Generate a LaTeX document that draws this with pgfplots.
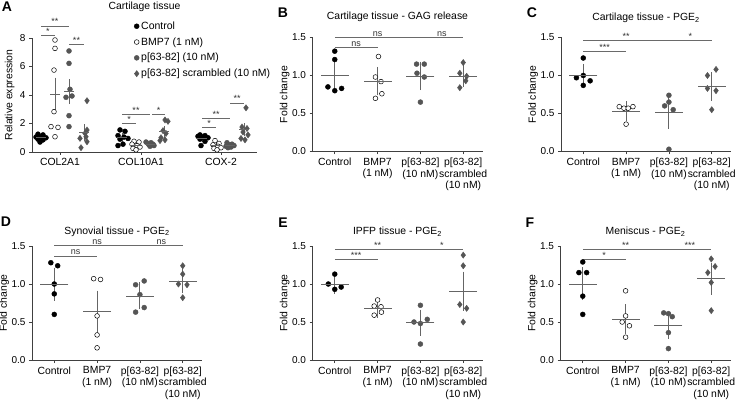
\documentclass[border=0pt]{standalone}
\usepackage{fontspec}
\setmainfont{Liberation Sans}
\usepackage{pgfplots}
\pgfplotsset{compat=1.18}

\definecolor{ptgray}{HTML}{555555}
\definecolor{mgray}{HTML}{656565}
\definecolor{sgray}{HTML}{6A6A6A}

\newcommand{\sig}[4]{\draw[sgray, line width=0.6pt] (axis cs:#1,#3) -- (axis cs:#2,#3)
  node[midway, above, inner sep=0.6pt, text=black!80, font=\fontsize{9}{9}\selectfont] {#4};}

\pgfplotsset{
  base/.style={scale only axis, axis lines=left,
    axis line style={-, line width=0.7pt, black!75},
    tick style={line width=0.7pt, black!75}, tick align=outside,
    major tick length=3pt, clip=false,
    font=\fontsize{10.4}{11.5}\selectfont,
    /pgf/number format/assume math mode=true,
    ylabel style={at={([xshift=-19.5pt]axis description cs:0,0.5)}, anchor=south},
    title style={font=\fontsize{10.4}{11.5}\selectfont}},
  fc/.style={base, width=170pt, height=114pt,
    xmin=-0.52, xmax=3.45, ymin=0, ymax=1.5,
    ytick={0,0.5,1,1.5},
    yticklabel style={font=\fontsize{10}{11}\selectfont, /pgf/number format/.cd, fixed, fixed zerofill, precision=1},
    xtick={0,1,2,3},
    xticklabels={Control, {BMP7\\(1 nM)}, {p[63-82]\\(10 nM)}, {p[63-82]\\scrambled\\(10 nM)}},
    xticklabel style={align=center},
    ylabel={Fold change}},
  ctrl/.style={only marks, mark=*, mark size=2.5pt, black},
  bmp/.style={only marks, mark=*, mark size=2.4pt, mark options={fill=white, draw=black, line width=0.5pt}},
  pep/.style={only marks, mark=*, mark size=2.5pt, ptgray},
  scr/.style={only marks, mark=diamond*, mark size=3.1pt, ptgray},
  sem/.style={forget plot, only marks, mark=-, mark size=#1pt, mgray,
    mark options={line width=0.9pt},
    error bars/.cd, y dir=both, y explicit, error mark=-,
    error mark options={mark size=#1pt/2, line width=0.9pt, mgray},
    error bar style={line width=0.9pt, mgray}},
}

\begin{document}
\begin{tikzpicture}
\useasboundingbox (0,0) rectangle (738pt,402pt);

% ---------------- A
\begin{axis}[base, at={(32pt,250pt)}, anchor=south west,
  width=225pt, height=114pt,
  xmin=0, xmax=225, ymin=0, ymax=8, ytick={0,2,4,6,8},
  yticklabel style={font=\fontsize{10}{11}\selectfont},
  xtick={28,109,189}, xticklabels={COL2A1,COL10A1,COX-2},
  ylabel={Relative expression},
  ylabel style={at={([xshift=-14pt]axis description cs:0,0.5)}, anchor=south},
  title={Cartilage tissue}, title style={yshift=17pt},
  legend style={at={(axis cs:102,9.3)}, anchor=north west, draw=none, fill=none,
    font=\fontsize{10.5}{11}\selectfont, row sep=2.7pt, inner sep=0pt},
  legend cell align=left]
\addplot[ctrl] coordinates {(6,1.25)(11,1.2)(4,1.05)(9,1.05)(14,1.0)(6,0.9)(11,0.85)(8,0.7)
  (88,1.55)(93,1.45)(86,1.15)(92,1.05)(96,0.95)(88,0.9)(91,0.55)(86,0.45)
  (168,1.2)(173,1.15)(166,1.1)(171,1.05)(176,1.0)(168,0.9)(173,0.75)(169,0.45)};
\addlegendentry{Control}
\addplot[bmp] coordinates {(23,7.86)(23,7.27)(22,5.75)(22,2.83)(19,1.78)(26,1.73)(23,1.07)
  (102,0.75)(107,0.7)(100,0.55)(105,0.45)(108,0.35)(101,0.25)(104,0.15)
  (183,0.8)(187,0.6)(181,0.5)(186,0.4)(189,0.3)(182,0.25)(185,0.15)};
\addlegendentry{BMP7 (1 nM)}
\addplot[pep] coordinates {(37,7.09)(37,6.22)(38,4.40)(34,3.84)(40,3.93)(37,2.55)(37,1.78)
  (114,0.7)(119,0.65)(116,0.6)(121,0.55)(117,0.5)(122,0.45)(118,0.4)
  (195,0.65)(200,0.55)(197,0.5)(202,0.45)(194,0.4)(199,0.35)(196,0.3)};
\addlegendentry{p[63-82] (10 nM)}
\addplot[scr] coordinates {(55,3.6)(48,0.96)(55,1.54)(54,1.07)(55,0.72)(49,0.30)(53,1.31)
  (133,2.25)(136,2.15)(131,1.5)(134,1.3)(129,1.0)(133,0.85)(128,0.8)
  (214,3.1)(210,1.75)(215,1.65)(211,1.4)(216,1.2)(209,0.95)(213,0.85)};
\addlegendentry{p[63-82] scrambled (10 nM)}
\addplot[sem=5] coordinates {
  (9,1.0) += (0,0.07) -= (0,0.07)
  (23,4.04) += (0,1.01) -= (0,1.09)
  (37,4.24) += (0,0.69) -= (0,0.71)
  (52,1.36) += (0,0.40) -= (0,0.40)
  (90,1.01) += (0,0.14) -= (0,0.14)
  (104,0.46) += (0,0.085) -= (0,0.085)
  (118,0.55) += (0,0.04) -= (0,0.04)
  (132,1.41) += (0,0.225) -= (0,0.225)
  (170,0.95) += (0,0.08) -= (0,0.08)
  (184,0.43) += (0,0.085) -= (0,0.085)
  (198,0.46) += (0,0.045) -= (0,0.045)
  (212,1.56) += (0,0.29) -= (0,0.29)};
\sig{9}{37}{8.85}{**}
\sig{9}{23}{8.2}{*}
\sig{37}{52}{7.55}{**}
\sig{90}{118}{2.65}{**}
\sig{90}{104}{2.0}{*}
\sig{120}{133}{2.65}{*}
\sig{170}{198}{2.35}{**}
\sig{170}{184}{1.72}{*}
\sig{198}{212}{3.45}{**}
\end{axis}

% ---------------- B
\begin{axis}[fc, at={(312.5pt,250.5pt)}, anchor=south west,
  title={Cartilage tissue - GAG release}, title style={yshift=6pt}]
\addplot[ctrl] coordinates {(0,1.32)(0,1.21)(-0.16,0.85)(0,0.80)(0.16,0.83)};
\addplot[bmp] coordinates {(1.02,1.25)(0.95,0.98)(1.08,0.92)(1.1,0.76)(0.95,0.70)};
\addplot[pep] coordinates {(1.91,1.15)(2.09,1.15)(1.92,1.03)(2.09,0.98)(2.0,0.65)};
\addplot[scr] coordinates {(3.0,1.17)(2.92,1.03)(3.08,0.99)(3.06,0.93)(2.92,0.84)};
\addplot[sem=14] coordinates {
  (0,1.0) += (0,0.105) -= (0,0.11)
  (1,0.92) += (0,0.10) -= (0,0.09)
  (2,0.99) += (0,0.10) -= (0,0.09)
  (3,0.99) += (0,0.06) -= (0,0.05)};
\sig{0}{2}{1.5}{ns}
\sig{2}{3}{1.5}{ns}
\sig{0}{1}{1.37}{ns}
\end{axis}

% ---------------- C
\begin{axis}[fc, at={(561pt,250.5pt)}, anchor=south west,
  title={Cartilage tissue - PGE\textsubscript{2}}, title style={yshift=5pt}]
\addplot[ctrl] coordinates {(0,1.23)(-0.16,0.97)(0,1.0)(0.16,0.93)(0,0.87)};
\addplot[bmp] coordinates {(0.84,0.59)(0.95,0.57)(1.05,0.57)(1.16,0.59)(1,0.36)};
\addplot[pep] coordinates {(2,0.74)(1.9,0.60)(2,0.65)(2.1,0.55)(2,0.03)};
\addplot[scr] coordinates {(2.9,1.0)(3.1,1.08)(2.9,0.83)(3.1,0.80)(3,0.55)};
\addplot[sem=14] coordinates {
  (0,1.0) += (0,0.06) -= (0,0.06)
  (1,0.53) += (0,0.04) -= (0,0.04)
  (2,0.51) += (0,0.13) -= (0,0.12)
  (3,0.85) += (0,0.10) -= (0,0.09)};
\sig{0}{2}{1.46}{**}
\sig{2}{3}{1.46}{*}
\sig{0}{1}{1.32}{***}
\end{axis}

% ---------------- D
\begin{axis}[fc, at={(32pt,42pt)}, anchor=south west,
  title={Synovial tissue - PGE\textsubscript{2}}, title style={yshift=0pt}]
\addplot[ctrl] coordinates {(-0.08,1.28)(0.08,1.24)(0,1.0)(0,0.87)(0,0.60)};
\addplot[bmp] coordinates {(0.92,1.07)(1.08,1.06)(1,0.58)(1,0.33)(1,0.16)};
\addplot[pep] coordinates {(1.9,0.99)(2.1,1.04)(2,0.86)(1.9,0.63)(2.1,0.69)};
\addplot[scr] coordinates {(3,1.24)(3,1.13)(2.9,1.0)(3.1,0.99)(3,0.82)};
\addplot[sem=14] coordinates {
  (0,1.0) += (0,0.125) -= (0,0.13)
  (1,0.64) += (0,0.18) -= (0,0.19)
  (2,0.84) += (0,0.09) -= (0,0.08)
  (3,1.035) += (0,0.065) -= (0,0.065)};
\sig{0}{2}{1.51}{ns}
\sig{2}{3}{1.51}{ns}
\sig{0}{1}{1.37}{ns}
\end{axis}

% ---------------- E
\begin{axis}[fc, at={(312.5pt,42pt)}, anchor=south west,
  title={IPFP tissue - PGE\textsubscript{2}}, title style={yshift=0pt}]
\addplot[ctrl] coordinates {(-0.15,1.0)(0,1.13)(0,0.93)(0.15,0.96)};
\addplot[bmp] coordinates {(1,0.79)(0.92,0.71)(1.08,0.70)(1.09,0.63)(0.92,0.59)};
\addplot[pep] coordinates {(2,0.72)(1.85,0.50)(2,0.48)(2.16,0.535)(2,0.21)};
\addplot[scr] coordinates {(3,1.38)(3,1.24)(2.92,0.73)(3.08,0.68)(3,0.50)};
\addplot[sem=14] coordinates {
  (0,1.0) += (0,0.05) -= (0,0.04)
  (1,0.68) += (0,0.035) -= (0,0.035)
  (2,0.49) += (0,0.08) -= (0,0.08)
  (3,0.905) += (0,0.165) -= (0,0.165)};
\sig{0}{2}{1.46}{**}
\sig{2}{3}{1.46}{*}
\sig{0}{1}{1.32}{***}
\end{axis}

% ---------------- F
\begin{axis}[fc, at={(560.5pt,42pt)}, anchor=south west,
  title={Meniscus - PGE\textsubscript{2}}, title style={yshift=0pt}]
\addplot[ctrl] coordinates {(0,1.29)(-0.09,1.15)(0.09,1.15)(0,0.84)(0,0.60)};
\addplot[bmp] coordinates {(1,0.91)(1,0.58)(0.92,0.50)(1.09,0.45)(1,0.30)};
\addplot[pep] coordinates {(1.89,0.62)(2,0.61)(2.09,0.57)(2,0.36)(2,0.15)};
\addplot[scr] coordinates {(3,1.33)(2.92,1.15)(3.09,1.23)(3,1.02)(3,0.65)};
\addplot[sem=14] coordinates {
  (0,1.0) += (0,0.13) -= (0,0.12)
  (1,0.54) += (0,0.10) -= (0,0.10)
  (2,0.45) += (0,0.09) -= (0,0.08)
  (3,1.07) += (0,0.12) -= (0,0.12)};
\sig{0}{2}{1.46}{**}
\sig{2}{3}{1.46}{***}
\sig{0}{1}{1.32}{*}
\end{axis}

% panel letters
\node[font=\bfseries\fontsize{14}{14}\selectfont] at (7pt,395pt) {A};
\node[font=\bfseries\fontsize{14}{14}\selectfont] at (283pt,389pt) {B};
\node[font=\bfseries\fontsize{14}{14}\selectfont] at (532pt,389pt) {C};
\node[font=\bfseries\fontsize{14}{14}\selectfont] at (6pt,180pt) {D};
\node[font=\bfseries\fontsize{14}{14}\selectfont] at (283pt,179pt) {E};
\node[font=\bfseries\fontsize{14}{14}\selectfont] at (530pt,179pt) {F};
\end{tikzpicture}
\end{document}
